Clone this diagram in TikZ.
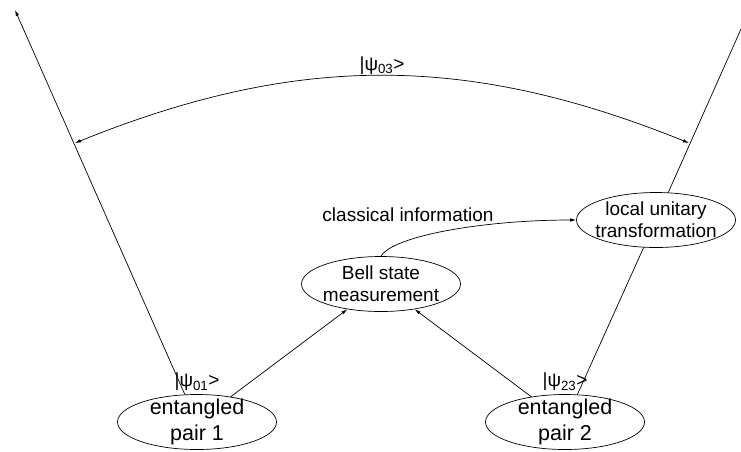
\documentclass[tikz,border=0pt]{standalone}
\usepackage{fontspec}
\setmainfont{Liberation Sans}
\usetikzlibrary{shapes.geometric,arrows.meta}
\begin{document}
\begin{tikzpicture}[x=1pt, y=1pt, line cap=round, line join=round, line width=0.7pt,
  >={Latex[length=6pt,width=3.5pt]},
  blob/.style={ellipse, draw, inner sep=0pt, minimum width=159pt, minimum height=55pt},
  big/.style={font=\fontsize{21.5}{26}\selectfont, align=center},
  txt/.style={font=\fontsize{19}{22}\selectfont, align=center},
  lbl/.style={font=\fontsize{19}{22}\selectfont, inner sep=1pt}]
  \useasboundingbox (0,0) rectangle (741,-451);
  \node[blob, label={[big]center:entangled\\pair 1}] (pairA) at (197,-422) {};
  \node[blob, label={[big]center:entangled\\pair 2}] (pairB) at (565,-422) {};
  \node[blob, label={[txt]center:Bell state\\measurement}] (bsm) at (381,-284) {};
  \node[blob, label={[txt]center:local unitary\\transformation}] (lut) at (656,-220) {};
  \coordinate (topL) at (15,-10);
  \coordinate (topR) at (741,-29);
  \coordinate (psiL) at (75,-143);
  \coordinate (psiR) at (689,-143);
  \draw[->] (pairA) -- (topL);
  \draw (pairB) -- (lut) -- (topR);
  \draw[->] (pairA) -- (bsm);
  \draw[->] (pairB) -- (bsm);
  \draw[->] (bsm.north) to[out=60, in=180, out looseness=0.3, in looseness=1.2] (lut.west);
  \draw[<->] (psiL) to[bend left=22] node[lbl, above] (psiC) {|ψ\textsubscript{03}>} (psiR);
  \node[lbl] (psiA) at (197,-382) {|ψ\textsubscript{01}>};
  \node[lbl] (psiB) at (565,-382) {|ψ\textsubscript{23}>};
  \node[lbl] (info) at (408,-214.5) {classical information};
\end{tikzpicture}
\end{document}
